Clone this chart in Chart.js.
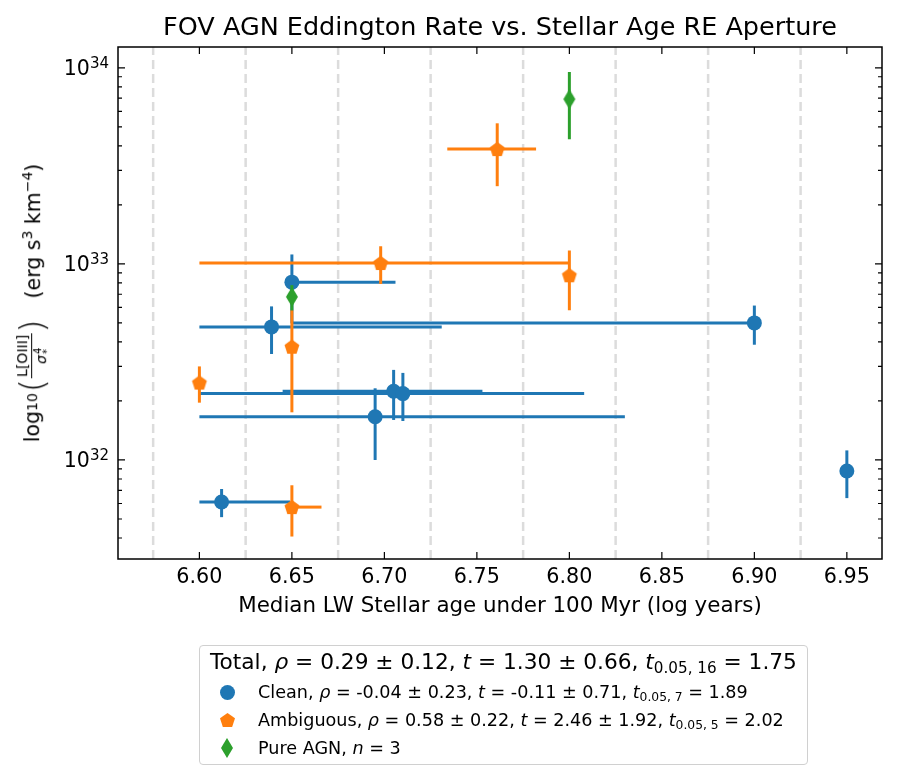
<!DOCTYPE html>
<html>
<head>
<meta charset="utf-8">
<script src="https://cdn.jsdelivr.net/npm/chart.js@4.4.1/dist/chart.umd.min.js"></script>
<style>
  body { margin: 0; background: #fff; }
  #wrap { position: relative; width: 897px; height: 780px; font-family: "DejaVu Sans", sans-serif; color: #000; }
  #chart { position: absolute; left: 0; top: 0; }
  #ylab { position: absolute; left: 32px; top: 303px; transform: translate(-50%, -50%) rotate(-90deg);
          white-space: nowrap; display: flex; align-items: center; font-size: 20.5px; }
  #ylab sub { font-size: 14px; vertical-align: -5px; }
  #ylab .bp { font-size: 34px; font-weight: 200; line-height: 1; margin: 0 1px; }
  #ylab .frac { display: inline-flex; flex-direction: column; align-items: center; font-size: 14px; line-height: 1.05; margin-top: 2px; }
  #ylab .num { border-bottom: 1px solid #000; padding: 0 1px 1px; }
  #ylab .den { display: inline-flex; align-items: center; padding-top: 1px; }
  #ylab .ss { display: inline-flex; flex-direction: column; font-size: 10px; line-height: 0.9; margin-left: 1px; }
  #ylab sup { font-size: 14px; vertical-align: 8px; }
  #legend { position: absolute; left: 199px; top: 645px; width: 609px; height: 120px;
            border: 1px solid #d0d0d0; border-radius: 4px; box-sizing: border-box; }
  .lt { position: absolute; left: 10px; top: 2px; font-size: 21.7px; line-height: 28px; white-space: nowrap; }
  .lr { position: absolute; left: 58px; font-size: 17.6px; line-height: 24px; white-space: nowrap; }
  .lt sub, .lr sub { font-size: 0.7em; vertical-align: -0.25em; }
  .mk { position: absolute; }
  .circ { width: 15px; height: 15px; border-radius: 50%; background: #1f77b4; }
  .pent { width: 15px; height: 14px; background: #ff7f0e; clip-path: polygon(50% 0%, 100% 38%, 81% 100%, 19% 100%, 0% 38%); }
  .diam { width: 12px; height: 20px; background: #2ca02c; clip-path: polygon(50% 0, 100% 50%, 50% 100%, 0 50%); }
</style>
</head>
<body>
<div id="wrap">
  <canvas id="chart" width="897" height="780"></canvas>
  <div id="ylab"><span>log</span><sub>10</sub><span class="bp">(</span><span class="frac"><span class="num">L[OIII]</span><span class="den"><i>σ</i><span class="ss"><span>4</span><span>*</span></span></span></span><span class="bp">)</span><span style="margin-left:20px">(erg s<sup>3</sup> km<sup>−4</sup>)</span></div>
  <div id="legend">
    <div class="lt">Total, <i>ρ</i> = 0.29 ± 0.12, <i>t</i> = 1.30 ± 0.66, <i>t</i><sub>0.05, 16</sub> = 1.75</div>
    <span class="mk circ" style="left:20px;top:39px"></span>
    <div class="lr" style="top:34px">Clean, <i>ρ</i> = -0.04 ± 0.23, <i>t</i> = -0.11 ± 0.71, <i>t</i><sub>0.05, 7</sub> = 1.89</div>
    <span class="mk pent" style="left:20px;top:67px"></span>
    <div class="lr" style="top:62px">Ambiguous, <i>ρ</i> = 0.58 ± 0.22, <i>t</i> = 2.46 ± 1.92, <i>t</i><sub>0.05, 5</sub> = 2.02</div>
    <span class="mk diam" style="left:21px;top:92px"></span>
    <div class="lr" style="top:90px">Pure AGN, <i>n</i> = 3</div>
  </div>
</div>
<script>
// Clean
const cleanX = [6.650, 6.639, 6.900, 6.705, 6.710, 6.695, 6.612, 6.950];
const cleanY = [8.07e32, 4.77e32, 5.00e32, 2.24e32, 2.18e32, 1.66e32, 6.11e31, 8.79e31];
const cleanXerrLo = [0, 0.039, 0.250, 0.060, 0.110, 0.095, 0.012, 0];
const cleanXerrHi = [0.056, 0.092, 0, 0.048, 0.098, 0.135, 0.037, 0];
const cleanYerr = [3.1e32, 1.3e32, 1.13e32, 0.64e32, 0.60e32, 0.66e32, 1.0e31, 2.4e31];

// Ambiguous
const ambX = [6.698, 6.800, 6.761, 6.650, 6.600, 6.650];
const ambY = [1.01e33, 8.75e32, 3.85e33, 3.78e32, 2.48e32, 5.75e31];
const ambXerrLo = [0.098, 0, 0.027, 0, 0, 0];
const ambXerrHi = [0.102, 0, 0.021, 0, 0, 0.016];
const ambYerr = [2.2e32, 2.95e32, 1.36e33, 2.03e32, 0.52e32, 1.68e31];

// Pure AGN
const agnX = [6.800, 6.650];
const agnY = [6.92e33, 6.79e32];
const agnXerrLo = [0, 0];
const agnXerrHi = [0, 0];
const agnYerr = [2.6e33, 1.0e32];

const xTicks = [6.60, 6.65, 6.70, 6.75, 6.80, 6.85, 6.90, 6.95];
const yTicks = [32, 33, 34];   // 10^n
const vLines = [6.575, 6.625, 6.675, 6.725, 6.775, 6.825, 6.875, 6.925];

const blue = '#1f77b4', orange = '#ff7f0e', green = '#2ca02c';

// 마커 모양 (오각형, 마름모) 캔버스로 만들기
function makeMarker(kind, color) {
  const c = document.createElement('canvas');
  c.width = 18; c.height = 22;
  const g = c.getContext('2d');
  g.fillStyle = color;
  g.beginPath();
  if (kind === 'pent') {
    const R = 7.8, cx = 9, cy = 11.6;
    for (let k = 0; k < 5; k++) {
      const a = -Math.PI / 2 + k * 2 * Math.PI / 5;
      const px = cx + R * Math.cos(a), py = cy + R * Math.sin(a);
      k === 0 ? g.moveTo(px, py) : g.lineTo(px, py);
    }
  } else {
    g.moveTo(9, 1); g.lineTo(15, 11); g.lineTo(9, 21); g.lineTo(3, 11);
  }
  g.closePath();
  g.fill();
  return c;
}

function pts(xs, ys) { return xs.map((x, i) => ({ x: x, y: ys[i] })); }

const errs = [
  { xlo: cleanXerrLo, xhi: cleanXerrHi, yerr: cleanYerr, color: blue },
  { xlo: ambXerrLo, xhi: ambXerrHi, yerr: ambYerr, color: orange },
  { xlo: agnXerrLo, xhi: agnXerrHi, yerr: agnYerr, color: green }
];

const drawPlugin = {
  id: 'drawPlugin',
  beforeDatasetsDraw(chart) {
    const { ctx, chartArea: a, scales: { x } } = chart;
    ctx.save();
    ctx.strokeStyle = '#dcdcdc';
    ctx.lineWidth = 2.5;
    ctx.setLineDash([9, 5]);
    vLines.forEach(v => {
      const px = x.getPixelForValue(v);
      ctx.beginPath(); ctx.moveTo(px, a.bottom); ctx.lineTo(px, a.top); ctx.stroke();
    });
    ctx.restore();
  },
  beforeDatasetDraw(chart, args) {
    const { ctx, scales: { x, y } } = chart;
    const e = errs[args.index];
    const data = chart.data.datasets[args.index].data;
    ctx.save();
    ctx.strokeStyle = e.color;
    ctx.lineWidth = 3;
    data.forEach((d, i) => {
      const px = x.getPixelForValue(d.x), py = y.getPixelForValue(d.y);
      if (e.xlo[i] > 0 || e.xhi[i] > 0) {
        ctx.beginPath();
        ctx.moveTo(x.getPixelForValue(d.x - e.xlo[i]), py);
        ctx.lineTo(x.getPixelForValue(d.x + e.xhi[i]), py);
        ctx.stroke();
      }
      const lo = Math.max(d.y - e.yerr[i], y.min);
      ctx.beginPath();
      ctx.moveTo(px, y.getPixelForValue(lo));
      ctx.lineTo(px, y.getPixelForValue(d.y + e.yerr[i]));
      ctx.stroke();
    });
    ctx.restore();
  },
  afterDraw(chart) {
    const { ctx, chartArea: a, scales: { x, y } } = chart;
    ctx.save();
    ctx.strokeStyle = '#000';
    ctx.fillStyle = '#000';
    ctx.lineWidth = 1.5;
    ctx.strokeRect(a.left, a.top, a.right - a.left, a.bottom - a.top);
    ctx.lineWidth = 1.2;
    // x 눈금 (안쪽으로)
    ctx.font = '20.7px "DejaVu Sans"';
    ctx.textAlign = 'center';
    xTicks.forEach(t => {
      const px = x.getPixelForValue(t);
      ctx.beginPath();
      ctx.moveTo(px, a.bottom); ctx.lineTo(px, a.bottom - 7);
      ctx.moveTo(px, a.top); ctx.lineTo(px, a.top + 7);
      ctx.stroke();
      ctx.fillText(t.toFixed(2), px, 583);
    });
    // y 눈금, 보조 눈금
    for (let n = 31; n <= 34; n++) {
      for (let k = 1; k <= 9; k++) {
        const v = k * Math.pow(10, n);
        if (v < y.min || v > y.max) continue;
        const py = y.getPixelForValue(v);
        const len = k === 1 ? 7 : 4;
        ctx.beginPath();
        ctx.moveTo(a.left, py); ctx.lineTo(a.left + len, py);
        ctx.moveTo(a.right, py); ctx.lineTo(a.right - len, py);
        ctx.stroke();
      }
    }
    yTicks.forEach(n => {
      const py = y.getPixelForValue(Math.pow(10, n));
      ctx.textAlign = 'right';
      ctx.font = '15px "DejaVu Sans"';
      const sup = String(n);
      const w = ctx.measureText(sup).width;
      ctx.fillText(sup, 109, py + 0.5);
      ctx.font = '20.5px "DejaVu Sans"';
      ctx.fillText('10', 109 - w, py + 7.5);
    });
    // 제목, x축 이름
    ctx.textAlign = 'center';
    ctx.font = '25.5px "DejaVu Sans"';
    ctx.fillText('FOV AGN Eddington Rate vs. Stellar Age RE Aperture', (a.left + a.right) / 2, 35);
    ctx.font = '21.4px "DejaVu Sans"';
    ctx.fillText('Median LW Stellar age under 100 Myr (log years)', (a.left + a.right) / 2, 612);
    ctx.restore();
  }
};

new Chart(document.getElementById('chart').getContext('2d'), {
  type: 'scatter',
  data: {
    datasets: [
      { label: 'Clean', data: pts(cleanX, cleanY), pointStyle: 'circle', pointRadius: 7.5,
        backgroundColor: blue, borderWidth: 0, order: 2 },
      { label: 'Ambiguous', data: pts(ambX, ambY), pointStyle: makeMarker('pent', orange), order: 1 },
      { label: 'Pure AGN', data: pts(agnX, agnY), pointStyle: makeMarker('diam', green), order: 0 }
    ]
  },
  options: {
    responsive: false,
    animation: false,
    devicePixelRatio: 1,
    layout: { padding: { left: 118, right: 15, top: 47, bottom: 221 } },
    plugins: { legend: { display: false }, tooltip: { enabled: false } },
    scales: {
      x: {
        type: 'linear', min: 6.556, max: 6.969,
        grid: { display: false }, border: { display: false }, ticks: { display: false },
        afterFit: s => { s.height = 0; }
      },
      y: {
        type: 'logarithmic', min: Math.pow(10, 31.495), max: Math.pow(10, 34.106),
        grid: { display: false }, border: { display: false }, ticks: { display: false },
        afterFit: s => { s.width = 0; }
      }
    }
  },
  plugins: [drawPlugin]
});
</script>
</body>
</html>
